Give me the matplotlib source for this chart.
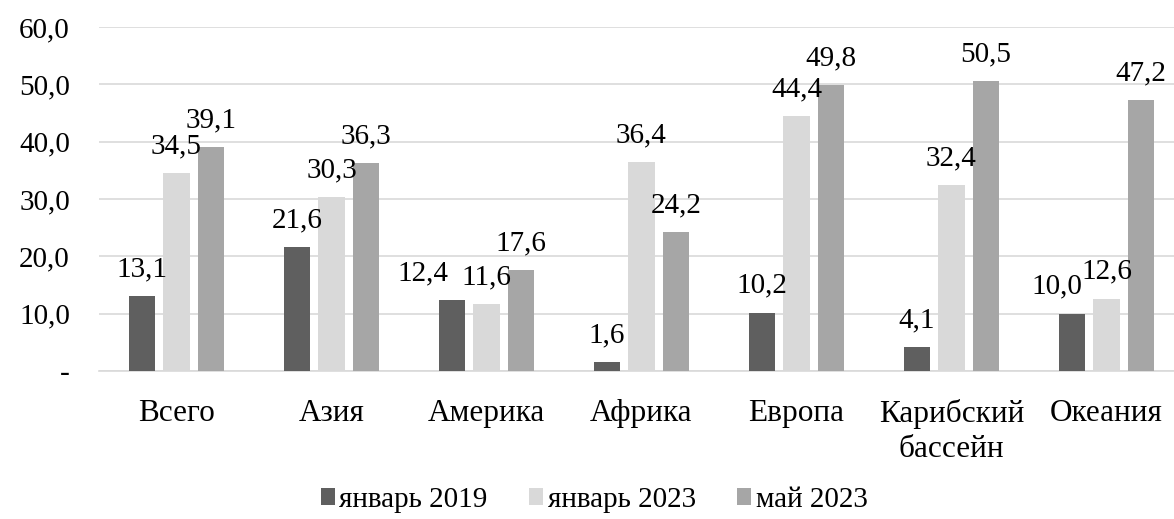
import numpy as np
import matplotlib.pyplot as plt

# Data
categories = ["Всего", "Азия", "Америка", "Африка", "Европа", "Карибский\nбассейн", "Океания"]
jan_2019 = [13.1, 21.6, 12.4, 1.6, 10.2, 4.1, 10.0]
jan_2023 = [34.5, 30.3, 11.6, 36.4, 44.4, 32.4, 12.6]
may_2023 = [39.1, 36.3, 17.6, 24.2, 49.8, 50.5, 47.2]
series_names = ["январь 2019", "январь 2023", "май 2023"]
y_ticks = [0, 10, 20, 30, 40, 50, 60]
y_tick_labels = ["-", "10,0", "20,0", "30,0", "40,0", "50,0", "60,0"]

colors = ["#5f5f5f", "#d9d9d9", "#a6a6a6"]
# labels that Excel nudged sideways to avoid overlap: (series, category) -> dx in points
label_shift = {(0, 2): -21, (0, 6): -11}

plt.rcParams['font.family'] = ['Liberation Serif', 'DejaVu Serif']

W, H = 1174, 519
fig = plt.figure(figsize=(W / 100, H / 100), dpi=100)
ax = fig.add_axes([99 / W, 1 - 371 / H, 1085 / W, 344 / H])

x = np.arange(len(categories))
step = 0.2226
width = 0.174
for i, (vals, name) in enumerate(zip([jan_2019, jan_2023, may_2023], series_names)):
    pos = x + (i - 1) * step
    ax.bar(pos, vals, width=width, color=colors[i], label=name, zorder=3)
    for j, (px, v) in enumerate(zip(pos, vals)):
        dx = label_shift.get((i, j), 0)
        ax.annotate(f"{v:.1f}".replace(".", ","), (px, v), xytext=(dx, 10),
                    textcoords="offset points", ha="center", va="bottom",
                    fontsize=21, zorder=4, annotation_clip=False)

ax.set_xlim(-0.5, len(categories) - 0.5)
ax.set_ylim(0, 60)
ax.set_yticks(y_ticks)
ax.set_yticklabels(y_tick_labels, fontsize=21)
ax.set_xticks(x)
ax.set_xticklabels(categories, fontsize=22.5, va="top", linespacing=1.3)
ax.tick_params(axis="both", length=0)
ax.tick_params(axis="x", pad=20)
ax.tick_params(axis="y", pad=21)

ax.grid(axis="y", color="#d9d9d9", linewidth=1.2, zorder=0)
for s in ["top", "right", "left"]:
    ax.spines[s].set_visible(False)
ax.spines["bottom"].set_color("#d9d9d9")
ax.spines["bottom"].set_linewidth(1.2)

fig.legend(loc="center", bbox_to_anchor=(594 / W, 1 - 500 / H), ncol=3, frameon=False,
           fontsize=21, handlelength=0.5, handleheight=0.5, handletextpad=0.15,
           columnspacing=1.4, borderpad=0)

fig.savefig("out.png", dpi=100)
